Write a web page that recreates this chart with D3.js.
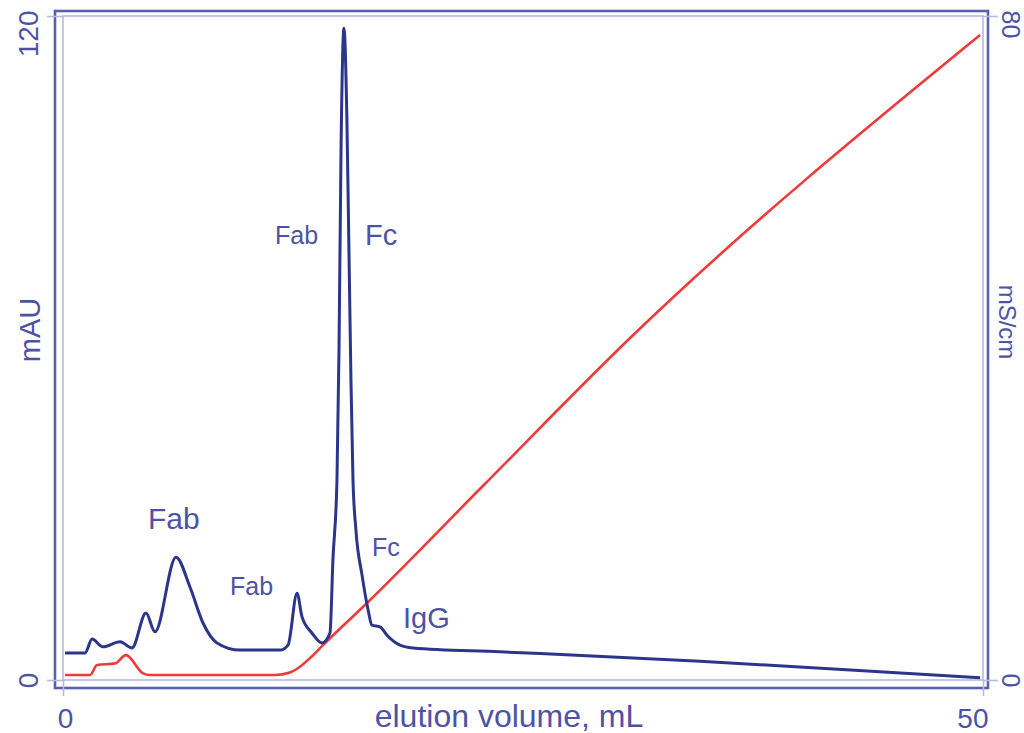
<!DOCTYPE html>
<html>
<head>
<meta charset="utf-8">
<script src="https://cdn.jsdelivr.net/npm/d3@7"></script>
<style>
  body { margin: 0; background: #fff; }
  text { font-family: "Liberation Sans", Arial, Helvetica, sans-serif; }
</style>
</head>
<body>
<svg id="chart" width="1024" height="733"></svg>
<script>
// UV absorbance trace (mAU) against elution volume (mL)
const uvVolume = [0.11, 1.20, 1.58, 2.17, 3.10, 3.75, 4.51, 5.00, 6.14, 6.90, 7.61, 8.37, 9.62, 11.79, 12.23,
  12.72, 12.99, 13.53, 14.08, 14.51, 14.67, 14.89, 15.00, 15.11, 15.27, 15.43, 15.54, 15.65, 15.76, 15.92,
  16.25, 16.58, 16.79, 17.23, 17.61, 18.32, 19.02, 23.75, 34.62, 42.80, 49.84];
const uvAbsorbance = [4.9, 4.9, 7.4, 6.0, 6.9, 5.8, 12.1, 8.7, 22.2, 16.8, 10.3, 6.7, 5.4, 5.4, 6.3,
  15.7, 11.4, 8.5, 6.7, 8.5, 21.7, 36.2, 59.6, 95.8, 117.8, 101.2, 77.8, 54.2, 36.2, 27.1,
  19.0, 12.7, 9.9, 9.6, 8.1, 6.3, 5.8, 5.1, 3.4, 1.8, 0.4];

// Conductivity trace (mS/cm) against elution volume (mL)
const condVolume = [0.11, 1.47, 1.85, 2.83, 3.42, 4.35, 4.73, 11.52, 12.33, 12.88, 13.50, 14.13, 16.58,
  22.83, 30.82, 49.84];
const condValue = [0.6, 0.6, 1.8, 2.0, 3.0, 0.8, 0.6, 0.6, 0.9, 1.6, 2.8, 4.2, 9.4,
  23.4, 41.2, 77.7];

// Axis ticks
const volumeTicks = [0, 50];
const uvTicks = [0, 120];
const condTicks = [0, 80];

// Peak annotations: text, elution volume (mL), absorbance level (mAU)
const peakNames = ["Fab", "Fab", "Fab", "Fc", "Fc", "IgG"];
const peakNameVolume = [4.62, 9.08, 11.52, 16.41, 16.79, 18.48];
const peakNameMAU = [27.3, 15.4, 78.8, 78.6, 22.4, 9.4];
const peakNameSize = [30, 25, 25, 29, 25, 29];

const svg = d3.select("#chart");
const W = 1024, H = 733;
const plotLeft = 63, plotRight = 983, plotTop = 16, plotBottom = 680;

const textColor = "#4d53a4";
const frameColor = "#5a5fae";
const innerFrameColor = "#b7bade";

const x = d3.scaleLinear().domain([0, 50]).range([plotLeft, plotRight]);
const yUV = d3.scaleLinear().domain([0, 120]).range([plotBottom, plotTop]);
const yCond = d3.scaleLinear().domain([0, 80]).range([plotBottom, plotTop]);

svg.append("rect").attr("width", W).attr("height", H).attr("fill", "#fff");

// outer frame
svg.append("rect")
  .attr("x", 55).attr("y", 11)
  .attr("width", 988 - 55).attr("height", 688 - 11)
  .attr("fill", "none").attr("stroke", frameColor).attr("stroke-width", 2.6);

// inner frame (plot area)
svg.append("rect")
  .attr("x", plotLeft).attr("y", plotTop)
  .attr("width", plotRight - plotLeft).attr("height", plotBottom - plotTop)
  .attr("fill", "none").attr("stroke", innerFrameColor).attr("stroke-width", 1.6);

// bottom axis
const xAxis = svg.append("g")
  .attr("transform", `translate(0,${plotBottom})`)
  .call(d3.axisBottom(x).tickValues(volumeTicks).tickSize(16).tickPadding(12).tickFormat(d3.format("d")));
xAxis.select(".domain").remove();
xAxis.selectAll(".tick line").attr("stroke", innerFrameColor).attr("stroke-width", 1.6);
xAxis.selectAll(".tick text")
  .attr("fill", textColor).attr("font-size", 28)
  .attr("text-anchor", (d, i) => i === volumeTicks.length - 1 ? "end" : "middle")
  .attr("dx", (d, i) => i === volumeTicks.length - 1 ? 5 : 2);

// left axis (mAU)
const yAxisL = svg.append("g")
  .attr("transform", `translate(${plotLeft},0)`)
  .call(d3.axisLeft(yUV).tickValues(uvTicks).tickSize(16).tickFormat(d3.format("d")));
yAxisL.select(".domain").remove();
yAxisL.selectAll(".tick line").attr("stroke", innerFrameColor).attr("stroke-width", 1.6);
yAxisL.selectAll(".tick text")
  .attr("fill", textColor).attr("font-size", 28)
  .attr("x", null).attr("dy", null)
  .attr("transform", (d, i) => `translate(-25,${i === uvTicks.length - 1 ? -6 : 0}) rotate(-90)`)
  .attr("text-anchor", (d, i) => i === uvTicks.length - 1 ? "end" : "middle");

// right axis (mS/cm)
const yAxisR = svg.append("g")
  .attr("transform", `translate(${plotRight},0)`)
  .call(d3.axisRight(yCond).tickValues(condTicks).tickSize(15).tickFormat(d3.format("d")));
yAxisR.select(".domain").remove();
yAxisR.selectAll(".tick line").attr("stroke", innerFrameColor).attr("stroke-width", 1.6);
yAxisR.selectAll(".tick text")
  .attr("fill", textColor).attr("font-size", 25)
  .attr("x", null).attr("dy", null)
  .attr("transform", (d, i) => `translate(19,${i === condTicks.length - 1 ? -6 : 0}) rotate(90)`)
  .attr("text-anchor", (d, i) => i === condTicks.length - 1 ? "start" : "middle");

// axis titles
svg.append("text")
  .attr("x", 509).attr("y", 727)
  .attr("text-anchor", "middle")
  .attr("fill", textColor).attr("font-size", 32)
  .text("elution volume, mL");

svg.append("text")
  .attr("transform", "translate(40,330) rotate(-90)")
  .attr("text-anchor", "middle")
  .attr("fill", textColor).attr("font-size", 29)
  .text("mAU");

svg.append("text")
  .attr("transform", "translate(999,322) rotate(90)")
  .attr("text-anchor", "middle")
  .attr("fill", textColor).attr("font-size", 24)
  .text("mS/cm");

// traces
const uvData = uvVolume.map((v, i) => [v, uvAbsorbance[i]]);
const condData = condVolume.map((v, i) => [v, condValue[i]]);

svg.append("path")
  .datum(condData)
  .attr("fill", "none")
  .attr("stroke", "#f03a3a")
  .attr("stroke-width", 2.6)
  .attr("stroke-linejoin", "round")
  .attr("d", d3.line().x(d => x(d[0])).y(d => yCond(d[1])).curve(d3.curveMonotoneX));

svg.append("path")
  .datum(uvData)
  .attr("fill", "none")
  .attr("stroke", "#2a358b")
  .attr("stroke-width", 3)
  .attr("stroke-linejoin", "round")
  .attr("d", d3.line().x(d => x(d[0])).y(d => yUV(d[1])).curve(d3.curveMonotoneX));

// peak annotations
svg.append("g").selectAll("text")
  .data(peakNames)
  .join("text")
  .attr("x", (d, i) => x(peakNameVolume[i]))
  .attr("y", (d, i) => yUV(peakNameMAU[i]))
  .attr("fill", textColor)
  .attr("font-size", (d, i) => peakNameSize[i])
  .text(d => d);
</script>
</body>
</html>
